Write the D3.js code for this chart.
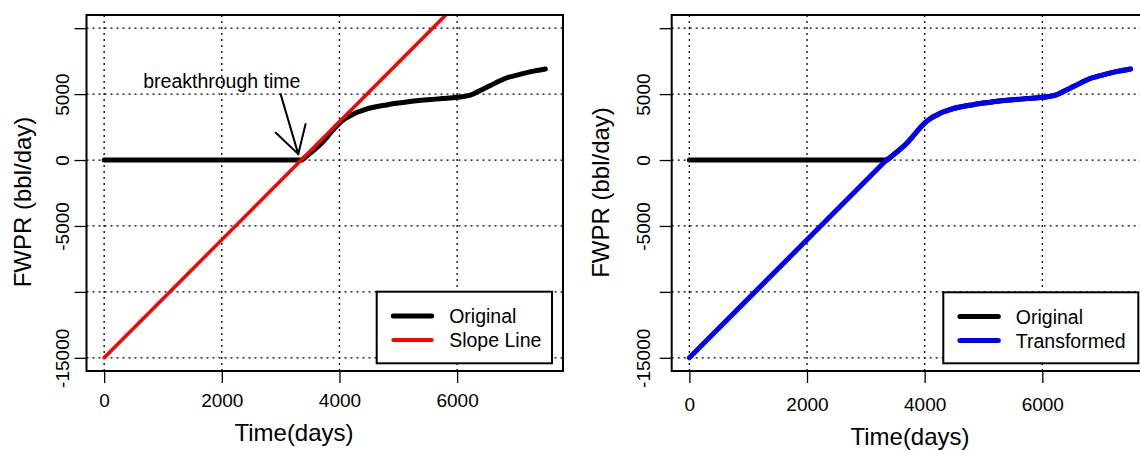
<!DOCTYPE html>
<html>
<head>
<meta charset="utf-8">
<script src="https://cdn.jsdelivr.net/npm/d3@7"></script>
<style>
  body { margin: 0; background: #fff; }
  svg { display: block; }
  text { font-family: "Liberation Sans", Arial, Helvetica, sans-serif; fill: #000; }
</style>
</head>
<body>
<svg id="chart" width="1140" height="450"></svg>
<script>
// Axis ticks
const xTickValues = [0, 2000, 4000, 6000];
const xTickLabels = ["0", "2000", "4000", "6000"];
const yTickValues = [-15000, -10000, -5000, 0, 5000, 10000];
const yTickLabels = ["-15000", "", "-5000", "0", "5000", ""];

// Water production rate of the well (bbl/day) over time (days)
const timeDays = [0, 500, 1000, 1500, 2000, 2500, 3000, 3350, 3450, 3600, 3700, 3800, 3900, 4000,
  4100, 4200, 4300, 4431, 4600, 4800, 5000, 5168, 5500, 5750, 6000, 6225, 6400, 6565, 6700,
  6849, 7000, 7132, 7300, 7500];
const originalRate = [0, 0, 0, 0, 0, 0, 0, 0, 330, 880, 1300, 1800, 2320, 2800,
  3150, 3400, 3620, 3830, 4020, 4180, 4320, 4420, 4570, 4660, 4760, 4920, 5300, 5650, 5950,
  6240, 6420, 6570, 6740, 6910];

// Straight line through the breakthrough point
const slopeTime = [0, 7500];
const slopeRate = [-15000, 18580];

// Slope line before breakthrough, original data after it
const transformedTime = [0, 3350, 3450, 3600, 3700, 3800, 3900, 4000,
  4100, 4200, 4300, 4431, 4600, 4800, 5000, 5168, 5500, 5750, 6000, 6225, 6400, 6565, 6700,
  6849, 7000, 7132, 7300, 7500];
const transformedRate = [-15000, 0, 330, 880, 1300, 1800, 2320, 2800,
  3150, 3400, 3620, 3830, 4020, 4180, 4320, 4420, 4570, 4660, 4760, 4920, 5300, 5650, 5950,
  6240, 6420, 6570, 6740, 6910];

// Annotation: arrow start/end in data units and its label position
const arrowTime = [3000, 3300];
const arrowRate = [5000, 450];
const noteTime = 2000;
const noteRate = 6000;
const noteText = "breakthrough time";

const xTitle = "Time(days)";
const yTitle = "FWPR (bbl/day)";

const xDomain = [-300, 7800];
const yDomain = [-16000, 11000];

const svg = d3.select("#chart");
svg.append("rect").attr("width", 1140).attr("height", 450).attr("fill", "#fff");

const toPoints = (xs, ys) => xs.map((t, i) => [t, ys[i]]);

function drawPanel(cfg) {
  const { box } = cfg;
  const x = d3.scaleLinear().domain(xDomain).range([box.x0, box.x1]);
  const y = d3.scaleLinear().domain(yDomain).range([box.y1, box.y0]);
  const g = svg.append("g");

  const clipId = "clip-" + cfg.id;
  g.append("clipPath").attr("id", clipId)
    .append("rect")
    .attr("x", box.x0).attr("y", box.y0)
    .attr("width", box.x1 - box.x0).attr("height", box.y1 - box.y0);

  // dotted grid at tick positions
  const grid = g.append("g")
    .attr("stroke", "#000").attr("stroke-width", 1.3)
    .attr("stroke-dasharray", "2,4").attr("fill", "none");
  grid.selectAll("line.v").data(xTickValues).join("line")
    .attr("class", "v")
    .attr("x1", d => x(d)).attr("x2", d => x(d))
    .attr("y1", box.y0).attr("y2", box.y1);
  grid.selectAll("line.h").data(yTickValues).join("line")
    .attr("class", "h")
    .attr("x1", box.x0).attr("x2", box.x1)
    .attr("y1", d => y(d)).attr("y2", d => y(d));

  // axes
  const xAxis = d3.axisBottom(x)
    .tickValues(xTickValues)
    .tickFormat((d, i) => xTickLabels[i])
    .tickSizeOuter(0).tickSizeInner(12);
  const xg = g.append("g").attr("transform", `translate(0,${box.y1})`).call(xAxis);
  xg.select(".domain").remove();
  xg.selectAll(".tick line").attr("stroke", "#000").attr("stroke-width", 1.3);
  xg.selectAll(".tick text")
    .attr("y", cfg.xLabelGap).attr("dy", null)
    .attr("font-size", 19).attr("fill", "#000")
    .style("font-family", '"Liberation Sans", Arial, sans-serif');

  const yAxis = d3.axisLeft(y)
    .tickValues(yTickValues)
    .tickFormat((d, i) => yTickLabels[i])
    .tickSizeOuter(0).tickSizeInner(12);
  const yg = g.append("g").attr("transform", `translate(${box.x0},0)`).call(yAxis);
  yg.select(".domain").remove();
  yg.selectAll(".tick line").attr("stroke", "#000").attr("stroke-width", 1.3);
  yg.selectAll(".tick text")
    .attr("x", null).attr("dy", null)
    .attr("text-anchor", "middle")
    .attr("transform", `translate(${-cfg.yLabelGap},0) rotate(-90)`)
    .attr("font-size", 19).attr("fill", "#000")
    .style("font-family", '"Liberation Sans", Arial, sans-serif');

  // axis titles
  g.append("text")
    .attr("x", cfg.xTitlePos[0]).attr("y", cfg.xTitlePos[1])
    .attr("text-anchor", "middle").attr("font-size", 24)
    .text(xTitle);
  g.append("text")
    .attr("transform", `translate(${cfg.yTitlePos[0]},${cfg.yTitlePos[1]}) rotate(-90)`)
    .attr("text-anchor", "middle").attr("font-size", 24)
    .text(yTitle);

  // series: smooth curve through the points; a leading straight piece stays straight
  const smooth = d3.line().x(d => x(d[0])).y(d => y(d[1])).curve(d3.curveMonotoneX);
  const straight = d3.line().x(d => x(d[0])).y(d => y(d[1]));
  const plot = g.append("g").attr("clip-path", `url(#${clipId})`);
  cfg.series.forEach(s => {
    const pts = toPoints(s.xs, s.ys);
    const pieces = s.straightLead
      ? [straight(pts.slice(0, 2)), smooth(pts.slice(1))]
      : [smooth(pts)];
    pieces.forEach(d => {
      plot.append("path")
        .attr("d", d)
        .attr("fill", "none").attr("stroke", s.color)
        .attr("stroke-width", s.width)
        .attr("stroke-linejoin", "round").attr("stroke-linecap", "round");
    });
  });

  if (cfg.annotate) {
    const x1 = x(arrowTime[0]), y1 = y(arrowRate[0]);
    const x2 = x(arrowTime[1]), y2 = y(arrowRate[1]);
    const ang = Math.atan2(y2 - y1, x2 - x1);
    const L = 31, spread = Math.PI / 6;
    const arrow = g.append("g").attr("stroke", "#000").attr("stroke-width", 2)
      .attr("fill", "none").attr("stroke-linecap", "round");
    arrow.append("line").attr("x1", x1).attr("y1", y1).attr("x2", x2).attr("y2", y2);
    [ang + spread, ang - spread].forEach(a => {
      arrow.append("line")
        .attr("x1", x2).attr("y1", y2)
        .attr("x2", x2 - L * Math.cos(a)).attr("y2", y2 - L * Math.sin(a));
    });
    g.append("text")
      .attr("x", x(noteTime)).attr("y", y(noteRate))
      .attr("dy", "0.35em")
      .attr("text-anchor", "middle").attr("font-size", 19.5)
      .text(noteText);
  }

  // plot frame
  g.append("rect")
    .attr("x", box.x0).attr("y", box.y0)
    .attr("width", box.x1 - box.x0).attr("height", box.y1 - box.y0)
    .attr("fill", "none").attr("stroke", "#000").attr("stroke-width", 2);

  // legend
  const lg = cfg.legend;
  const leg = g.append("g");
  leg.append("rect")
    .attr("x", lg.x).attr("y", lg.y).attr("width", lg.w).attr("height", lg.h)
    .attr("fill", "#fff").attr("stroke", "#000").attr("stroke-width", 2);
  cfg.series.forEach((s, i) => {
    const ly = lg.y + 24.3 + i * 24;
    leg.append("line")
      .attr("x1", lg.x + 16.6).attr("x2", lg.x + 55)
      .attr("y1", ly).attr("y2", ly)
      .attr("stroke", s.color).attr("stroke-width", s.legendWidth)
      .attr("stroke-linecap", "round");
    leg.append("text")
      .attr("x", lg.x + 72.5).attr("y", ly + 7.3)
      .attr("font-size", 19.5)
      .text(s.name);
  });
}

drawPanel({
  id: "left",
  box: { x0: 86.5, x1: 563, y0: 15, y1: 371 },
  xLabelGap: 35.7,
  yLabelGap: 17.7,
  xTitlePos: [294, 440.5],
  yTitlePos: [30.7, 202],
  annotate: true,
  legend: { x: 376.7, y: 291.7, w: 175.3, h: 71.6 },
  series: [
    { name: "Original", xs: timeDays, ys: originalRate, color: "#000", width: 5, legendWidth: 5 },
    { name: "Slope Line", xs: slopeTime, ys: slopeRate, color: "#ff0000", width: 3.5, legendWidth: 4 }
  ]
});

drawPanel({
  id: "right",
  box: { x0: 671.7, x1: 1148.2, y0: 15, y1: 371 },
  xLabelGap: 39.7,
  yLabelGap: 21.6,
  xTitlePos: [910, 444.5],
  yTitlePos: [609.3, 192.5],
  annotate: false,
  legend: { x: 943.3, y: 292.3, w: 195, h: 71 },
  series: [
    { name: "Original", xs: timeDays, ys: originalRate, color: "#000", width: 5, legendWidth: 5 },
    { name: "Transformed", xs: transformedTime, ys: transformedRate, color: "#0000ff", width: 5, legendWidth: 5, straightLead: true }
  ]
});
</script>
</body>
</html>
